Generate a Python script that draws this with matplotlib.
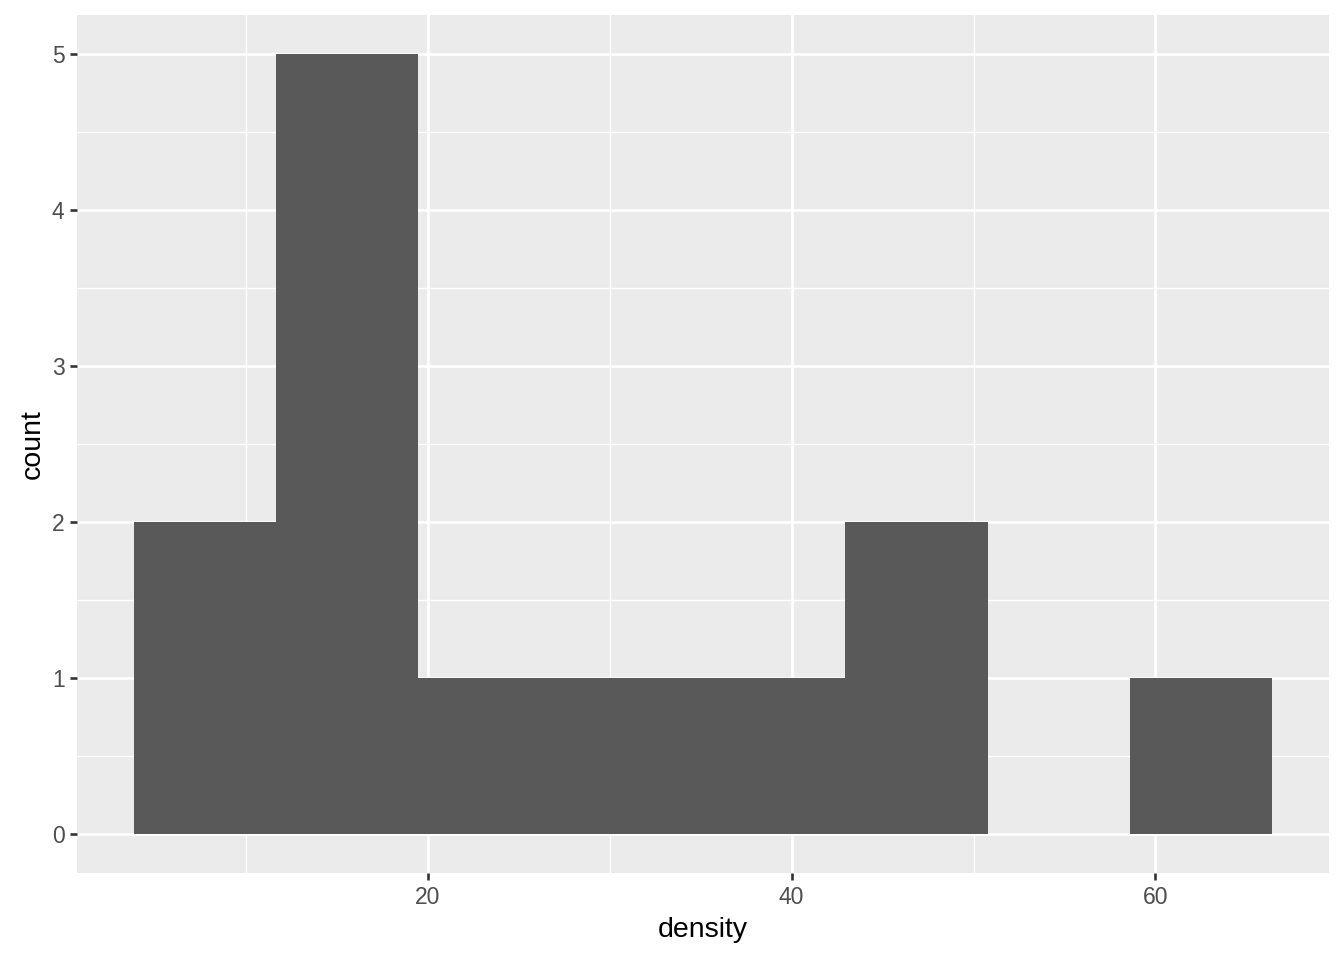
import numpy as np
import matplotlib
matplotlib.use("Agg")
import matplotlib.pyplot as plt
from matplotlib.ticker import FixedLocator

# Histogram bins (density) and counts
bin_edges = [3.85, 11.67, 19.49, 27.31, 35.13, 42.95, 50.77, 58.59, 66.41]
counts = [2, 5, 1, 1, 1, 2, 0, 1]
x_ticks = [20, 40, 60]
x_minor = [10, 30, 50]
y_ticks = [0, 1, 2, 3, 4, 5]
y_minor = [0.5, 1.5, 2.5, 3.5, 4.5]

plt.rcParams['font.family'] = ['Liberation Sans', 'DejaVu Sans']

fig = plt.figure(figsize=(13.44, 9.6), dpi=100)
ax = fig.add_axes([77/1344, 87/960, (1329-77)/1344, (873-15)/960])
ax.set_facecolor('#EBEBEB')

edges = np.array(bin_edges)
ax.bar(edges[:-1], counts, width=np.diff(edges), align='edge',
       color='#595959', linewidth=0, zorder=3)

rng = edges[-1] - edges[0]
ax.set_xlim(edges[0] - 0.05*rng, edges[-1] + 0.05*rng)
ax.set_ylim(-0.25, 5.25)

ax.xaxis.set_major_locator(FixedLocator(x_ticks))
ax.xaxis.set_minor_locator(FixedLocator(x_minor))
ax.yaxis.set_major_locator(FixedLocator(y_ticks))
ax.yaxis.set_minor_locator(FixedLocator(y_minor))

ax.grid(which='major', color='white', linewidth=1.9, zorder=1)
ax.grid(which='minor', color='white', linewidth=0.95, zorder=1)
ax.set_axisbelow(True)

for s in ax.spines.values():
    s.set_visible(False)

ax.tick_params(which='major', length=5, width=1.9, color='#333333',
               labelcolor='#4D4D4D', labelsize=16.5, pad=4)
ax.tick_params(which='minor', length=0)

ax.set_xlabel('density', fontsize=20.5, color='black', labelpad=6)
ax.set_ylabel('count', fontsize=20.5, color='black', labelpad=4)

fig.savefig('out.png', dpi=100, facecolor='white')
